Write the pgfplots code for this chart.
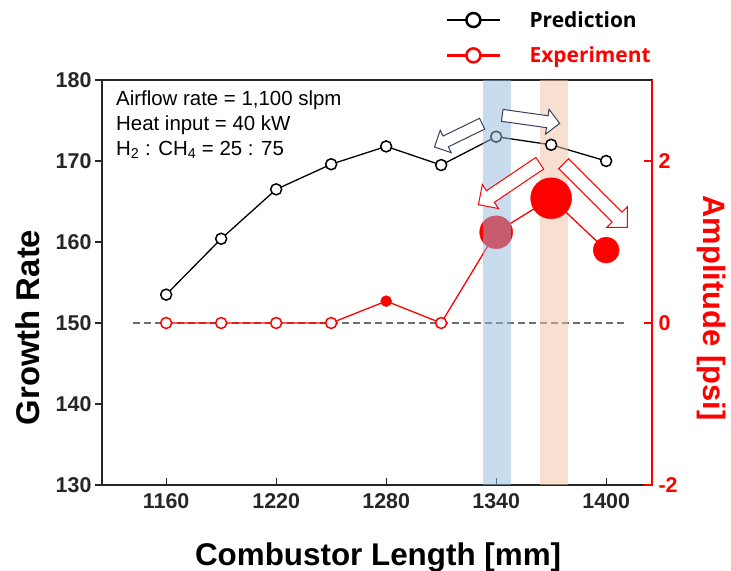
\documentclass[border=0pt]{standalone}
\usepackage{pgfplots}
\pgfplotsset{compat=1.18}
\usepackage{fontspec}
\setmainfont{Liberation Sans}
\newfontfamily\legfont{Open Sans}
\usetikzlibrary{shapes.arrows}
\definecolor{bandblue}{RGB}{145,185,221}
\definecolor{bandorange}{RGB}{241,193,161}
\definecolor{arrnavy}{RGB}{55,65,95}
\definecolor{dashgray}{RGB}{110,110,110}
\begin{document}
\begin{tikzpicture}
\path[use as bounding box] (-102bp,-86bp) rectangle (629bp,485bp);
\begin{axis}[
  scale only axis, width=550bp, height=405bp,
  at={(0,0)}, anchor=south west,
  xmin=1125, xmax=1425, ymin=130, ymax=180,
  xtick={1160,1220,1280,1340,1400}, ytick={130,140,150,160,170,180},
  xtick pos=left, ytick pos=left,
  xtick align=inside, ytick align=outside,
  major tick length=7bp,
  axis line style={line width=1.3bp, black!85},
  tick style={line width=1.3bp, black!85},
  tick label style={font=\fontsize{21.5}{25}\selectfont\bfseries, text=black!85},
  xticklabel style={yshift=-5bp},
  /pgf/number format/assume math mode=true,
  /pgf/number format/1000 sep={},
  xlabel={Combustor Length [mm]}, ylabel={Growth Rate},
  xlabel style={font=\fontsize{31.5}{36}\selectfont\bfseries, at={(axis description cs:0.502,-0.178)}, anchor=center},
  ylabel style={font=\fontsize{33}{38}\selectfont\bfseries, at={(axis description cs:-0.1345,0.389)}, anchor=center},
  clip=false,
  legend style={draw=none, fill=none, at={(axis description cs:0.6254,1.175)}, anchor=north west,
    font=\legfont\fontsize{21}{25}\selectfont\bfseries, row sep=14bp, inner sep=0pt},
  legend cell align=left,
  legend image code/.code={\draw[#1, line width=2.5bp, mark repeat=2, mark phase=2] plot coordinates {(0bp,0bp) (26bp,0bp) (53bp,0bp)}; \path (80bp,0bp);},
]
\addplot[dashgray, line width=1.5bp, dash pattern=on 7bp off 4bp, forget plot] coordinates {(1142,150) (1411,150)};
\addplot[black, line width=1.3bp, mark=*, mark size=5.5bp, mark options={fill=white, draw=black, line width=1.5bp, solid}, forget plot]
  coordinates {(1160,153.5) (1190,160.4) (1220,166.5) (1250,169.6) (1280,171.8) (1310,169.5) (1340,173.0) (1370,172.0) (1400,170.0)};
\addlegendimage{black, mark=*, mark size=7bp, mark options={fill=white, draw=black, line width=2.5bp}}
\addlegendentry{Prediction}
\addlegendimage{red, mark=*, mark size=7bp, mark options={fill=white, draw=red, line width=2.5bp}}
\addlegendentry{\textcolor{red}{Experiment}}
\fill[bandorange, opacity=0.5] (axis cs:1364,130) rectangle (axis cs:1379,180);
\end{axis}
\begin{axis}[
  scale only axis, width=550bp, height=405bp,
  at={(0,0)}, anchor=south west,
  xmin=1125, xmax=1425, ymin=-2, ymax=3,
  axis x line=none, axis y line*=right,
  ytick={-2,0,2}, ytick align=inside,
  major tick length=8bp,
  y axis line style={red, line width=1.8bp},
  ytick style={red, line width=1.5bp},
  yticklabel style={font=\fontsize{21.5}{25}\selectfont\bfseries, text=red, xshift=3bp},
  /pgf/number format/assume math mode=true,
  ylabel={Amplitude [psi]},
  ylabel style={font=\fontsize{31}{36}\selectfont\bfseries, text=red, rotate=180, at={(axis description cs:1.109,0.437)}, anchor=center},
  clip=false,
]
\addplot[red, line width=1.3bp] coordinates {(1160,0) (1190,0) (1220,0) (1250,0) (1280,0.27) (1310,0) (1340,1.12) (1370,1.54) (1400,0.9)};
\addplot[only marks, mark=*, mark size=5.5bp, mark options={fill=white, draw=red, line width=1.5bp}]
  coordinates {(1160,0) (1190,0) (1220,0) (1250,0) (1310,0)};
\addplot[only marks, mark=*, mark size=5.5bp, red] coordinates {(1280,0.27)};
\addplot[only marks, mark=*, mark size=16.5bp, red] coordinates {(1340,1.12)};
\addplot[only marks, mark=*, mark size=20.5bp, red] coordinates {(1370,1.54)};
\addplot[only marks, mark=*, mark size=13bp, red] coordinates {(1400,0.9)};
\end{axis}
\fill[bandblue, opacity=0.5] (381.3bp,0bp) rectangle (408.8bp,405bp);
\node[anchor=north west, align=left, inner sep=0pt, font=\fontsize{20.5}{25}\selectfont] at (14bp,394bp)
  {Airflow rate = 1,100 slpm\\Heat input = 40 kW\\H\textsubscript{2} : CH\textsubscript{4} = 25 : 75};
\node[single arrow, draw=arrnavy, fill=white, line width=1bp, inner sep=5.5bp, single arrow head extend=6.5bp, minimum height=53bp, rotate=206] at (359bp,351bp) {};
\node[single arrow, draw=arrnavy, fill=white, line width=1bp, inner sep=5.5bp, single arrow head extend=6.5bp, minimum height=58bp, rotate=-8] at (426bp,366bp) {};
\node[single arrow, draw=red, fill=white, line width=1bp, inner sep=6.5bp, single arrow head extend=7.5bp, minimum height=74bp, rotate=214] at (410bp,303bp) {};
\node[single arrow, draw=red, fill=white, line width=1bp, inner sep=6.5bp, single arrow head extend=7.5bp, minimum height=90bp, rotate=-45] at (491bp,292bp) {};
\end{tikzpicture}
\end{document}
